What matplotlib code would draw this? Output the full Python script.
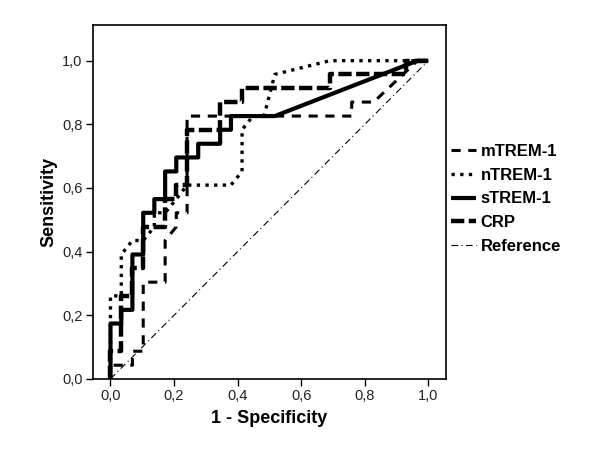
import matplotlib
matplotlib.use("Agg")
import matplotlib.pyplot as plt
from matplotlib.ticker import FuncFormatter

plt.rcParams['font.family'] = ['Liberation Sans', 'DejaVu Sans']

# ROC curves (1 - specificity, sensitivity)
mtrem_x = [0, 0, .069, .069, .103, .103, .172, .172, .207, .207, .241, .241, .759, .759, .828, .966, 1]
mtrem_y = [0, .043, .043, .087, .087, .304, .304, .435, .478, .522, .522, .826, .826, .870, .870, 1, 1]

ntrem_x = [0, 0, .034, .034, .069, .103, .138, .138, .172, .207, .241, .379, .414, .414, .448, .483, .517, .690, 1]
ntrem_y = [0, .261, .261, .391, .435, .435, .478, .522, .522, .565, .609, .609, .652, .783, .826, .826, .957, 1, 1]

strem_x = [0, 0, .034, .034, .069, .069, .103, .103, .138, .138, .172, .172, .207, .207, .276, .276,
           .345, .345, .379, .379, .517, .966, 1]
strem_y = [0, .174, .174, .217, .217, .391, .391, .522, .522, .565, .565, .652, .652, .696, .696, .739,
           .739, .783, .783, .826, .826, 1, 1]

crp_x = [0, 0, .034, .034, .069, .069, .103, .103, .172, .172, .207, .207, .241, .241, .345, .345,
         .414, .414, .690, .690, .931, .931, 1]
crp_y = [0, .087, .087, .261, .261, .348, .348, .478, .478, .565, .565, .609, .609, .783, .783, .870,
         .870, .913, .913, .957, .957, 1, 1]

ref_x = [0, 1]
ref_y = [0, 1]

labels = ['mTREM-1', 'nTREM-1', 'sTREM-1', 'CRP', 'Reference']

fig = plt.figure(figsize=(6, 4.5), dpi=100)
ax = fig.add_axes([0.155, 0.158, 0.588, 0.787])

ax.plot(mtrem_x, mtrem_y, color='black', lw=2.2, dashes=(3, 2.5), label=labels[0])
ax.plot(ntrem_x, ntrem_y, color='black', lw=2.4, dashes=(1, 1.6), label=labels[1])
ax.plot(strem_x, strem_y, color='black', lw=3, solid_capstyle='butt', label=labels[2])
ax.plot(crp_x, crp_y, color='black', lw=3.2, dashes=(3, 1), label=labels[3])
ax.plot(ref_x, ref_y, color='black', lw=0.8, dashes=(6, 3, 1, 3), label=labels[4])

ax.set_xlim(-0.055, 1.055)
ax.set_ylim(0, 1.113)
ax.set_xticks([0, .2, .4, .6, .8, 1.0])
ax.set_yticks([0, .2, .4, .6, .8, 1.0])
comma = FuncFormatter(lambda v, p: f"{v:.1f}".replace('.', ','))
ax.xaxis.set_major_formatter(comma)
ax.yaxis.set_major_formatter(comma)
ax.tick_params(direction='out', length=5, width=1, pad=2.5, labelsize=10.5, top=False, right=False)
for lab in ax.get_xticklabels() + ax.get_yticklabels():
    lab.set_color('#222222')
for s in ax.spines.values():
    s.set_linewidth(1.2)

ax.set_xlabel('1 - Specificity', fontsize=13, fontweight='bold', labelpad=5)
ax.set_ylabel('Sensitivity', fontsize=13, fontweight='bold', labelpad=3)

leg = fig.legend(loc='upper left', bbox_to_anchor=(0.726, 0.713), frameon=False,
                 handlelength=1.5, handletextpad=0.3, labelspacing=0.52,
                 prop={'weight': 'bold', 'size': 12})

fig.savefig('out.png', dpi=100)
